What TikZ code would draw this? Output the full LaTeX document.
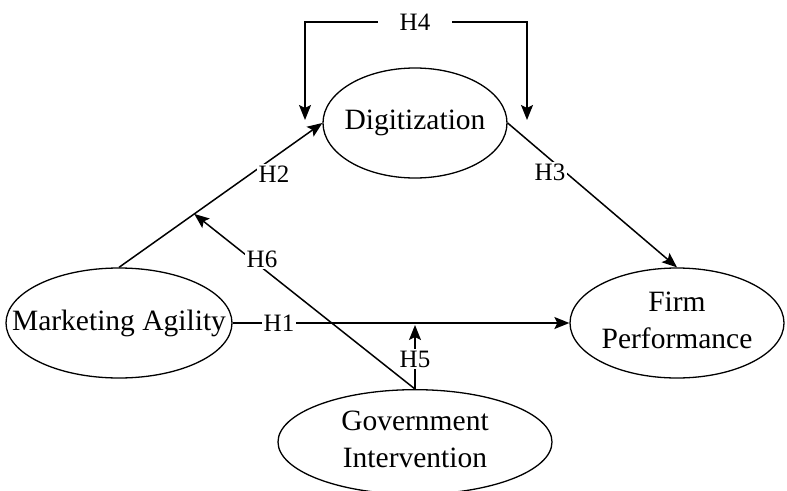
\documentclass[tikz,border=0pt]{standalone}
\usepackage{fontspec}
\setmainfont{Liberation Serif}
\usetikzlibrary{shapes.geometric,arrows.meta,calc}
\begin{document}
\begin{tikzpicture}[x=1pt,y=-1pt,
  line width=1.5pt,
  conn/.style={-{Stealth[length=15pt,width=12pt,inset=3pt]}},
  bothconn/.style={{Stealth[length=15pt,width=12pt,inset=3pt]}-{Stealth[length=15pt,width=12pt,inset=3pt]}},
  construct/.style={ellipse,draw,line width=1.3pt,inner sep=0pt,
    font=\fontsize{29.5}{37}\selectfont},
  hlabel/.style={fill=white,inner sep=2pt,font=\fontsize{25}{28}\selectfont}]
\useasboundingbox (0,0) rectangle (787,490);
\node[construct,minimum width=226pt,minimum height=110pt] (ma) at (119,323)
  {\makebox[0pt]{Marketing Agility}};
\node[construct,minimum width=184pt,minimum height=110pt] (dig) at (415,123)
  {\makebox[0pt]{Digitization}};
\node[construct,minimum width=214pt,minimum height=110pt] (fp) at (677,323)
  {\makebox[0pt]{\begin{tabular}{@{}c@{}}Firm\\Performance\end{tabular}}};
\node[construct,minimum width=274pt,minimum height=88pt] (gi) at (415,442)
  {\makebox[0pt]{\begin{tabular}{@{}c@{}}Government\\Intervention\end{tabular}}};
% H1
\draw[conn] (ma.east) -- (fp.west);
\node[hlabel] (h1) at (279,323) {H1};
% H2
\draw[conn] (ma.north) -- (dig.west);
\node[hlabel] (h2) at (274,174) {H2};
% H3
\draw[conn] (dig.east) -- (fp.north);
\node[hlabel] (h3) at (550,172) {H3};
% H4
\coordinate (h4a) at (305,120);
\coordinate (h4b) at (527,120);
\draw[bothconn] (h4a) -- ++(0,-98) -| (h4b);
\node[hlabel,minimum width=74pt] (h4) at (415,22) {H4};
% H6
\coordinate (h6t) at ($(ma.north)!0.37!(dig.west)$);
\draw[conn] (gi.north) -- (h6t);
\node[hlabel] (h6) at (262,259) {H6};
% H5
\coordinate (h5t) at ($(gi.north |- ma.east)+(0,2)$);
\draw[conn] (gi.north) -- (h5t);
\node[hlabel] (h5) at (415,359) {H5};
\end{tikzpicture}
\end{document}
